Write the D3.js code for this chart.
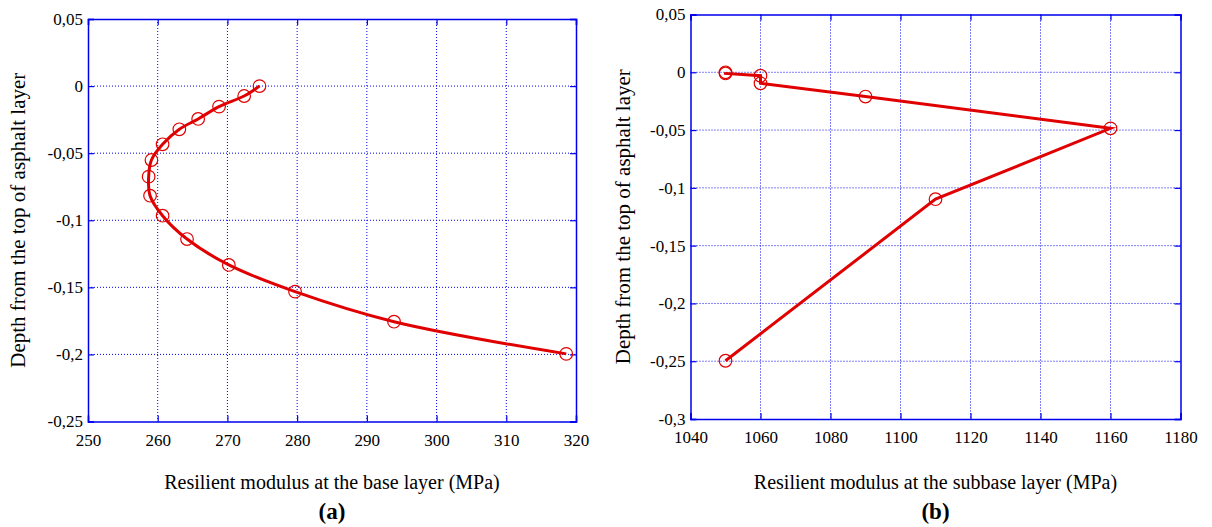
<!DOCTYPE html>
<html>
<head>
<meta charset="utf-8">
<script src="https://cdn.jsdelivr.net/npm/d3@7"></script>
<style>
  body { margin: 0; background: #fff; }
  svg { display: block; }
  svg text { font-family: 'Liberation Serif', 'DejaVu Serif', Times, serif !important; fill: #000; }
</style>
</head>
<body>
<svg id="chart" width="1212" height="527"></svg>
<script>
// panel (a): base layer
const baseModulus = [274.6, 272.4, 268.8, 265.8, 263.1, 260.7, 259.1, 258.7, 258.9, 260.7, 264.2, 270.2, 279.7, 293.9, 318.6];
const baseDepth = [0, -0.0074, -0.0153, -0.0245, -0.0322, -0.0434, -0.0551, -0.0675, -0.0817, -0.0966, -0.114, -0.1333, -0.1532, -0.1756, -0.1996];
const baseXTicks = [250, 260, 270, 280, 290, 300, 310, 320];
const baseYTicks = [0.05, 0, -0.05, -0.1, -0.15, -0.2, -0.25];

// panel (b): subbase layer
const subModulus = [1050, 1050, 1060, 1060, 1090, 1160, 1110, 1050];
const subDepth = [0, -0.001, -0.003, -0.0095, -0.021, -0.0485, -0.1098, -0.2496];
const subXTicks = [1040, 1060, 1080, 1100, 1120, 1140, 1160, 1180];
const subYTicks = [0.05, 0, -0.05, -0.1, -0.15, -0.2, -0.25, -0.3];

const svg = d3.select("#chart");
const blue = "#0000ee";
const red = "#e00000";
const serif = "'Liberation Serif', 'DejaVu Serif', Times, serif";

function fmt(v) {
    return String(+v.toFixed(2)).replace(".", ","); // comma decimals like the original
}

function drawPanel(p) {
    const g = svg.append("g");
    const x = d3.scaleLinear().domain([p.xTicks[0], p.xTicks[p.xTicks.length - 1]]).range([p.left, p.right]);
    const y = d3.scaleLinear().domain([p.yTicks[p.yTicks.length - 1], p.yTicks[0]]).range([p.bottom, p.top]);

    // dotted grid
    g.selectAll(".vgrid").data(p.xTicks.slice(1, -1)).enter().append("line")
        .attr("x1", d => x(d)).attr("x2", d => x(d))
        .attr("y1", p.top).attr("y2", p.bottom)
        .attr("stroke", blue).attr("stroke-width", 1).attr("stroke-dasharray", "1,2");
    g.selectAll(".hgrid").data(p.yTicks.slice(1, -1)).enter().append("line")
        .attr("y1", d => y(d)).attr("y2", d => y(d))
        .attr("x1", p.left).attr("x2", p.right)
        .attr("stroke", blue).attr("stroke-width", 1).attr("stroke-dasharray", "1,2");

    // axes with inward ticks on all four sides
    const tl = 6;
    const axes = [
        g.append("g").attr("transform", `translate(0,${p.bottom})`)
            .call(d3.axisBottom(x).tickValues(p.xTicks).tickSize(-tl).tickPadding(12).tickFormat(d => d)),
        g.append("g").attr("transform", `translate(0,${p.top})`)
            .call(d3.axisTop(x).tickValues(p.xTicks).tickSize(-tl).tickFormat("")),
        g.append("g").attr("transform", `translate(${p.left},0)`)
            .call(d3.axisLeft(y).tickValues(p.yTicks).tickSize(-tl).tickPadding(5).tickFormat(fmt)),
        g.append("g").attr("transform", `translate(${p.right},0)`)
            .call(d3.axisRight(y).tickValues(p.yTicks).tickSize(-tl).tickFormat(""))
    ];
    axes.forEach(a => a.attr("font-family", serif).attr("font-size", 17));
    g.selectAll(".domain").attr("stroke", blue).attr("stroke-width", 1.5);
    g.selectAll(".tick line").attr("stroke", blue).attr("stroke-width", 1.2);
    g.selectAll(".tick text").attr("fill", "#000");

    // data
    const pts = p.xs.map((v, i) => [v, p.ys[i]]);
    const line = d3.line().x(d => x(d[0])).y(d => y(d[1])).curve(p.curve);
    g.append("path").datum(pts)
        .attr("d", line).attr("fill", "none").attr("stroke", red).attr("stroke-width", 3);
    g.selectAll("circle").data(pts).enter().append("circle")
        .attr("cx", d => x(d[0])).attr("cy", d => y(d[1])).attr("r", 6.3)
        .attr("fill", "none").attr("stroke", red).attr("stroke-width", 1.2);

    // titles
    const cx = (p.left + p.right) / 2;
    g.append("text").attr("x", cx).attr("y", 489).attr("text-anchor", "middle")
        .attr("font-family", serif).attr("font-size", 20).text(p.xTitle);
    g.append("text").attr("x", cx).attr("y", 519).attr("text-anchor", "middle")
        .attr("font-family", serif).attr("font-size", 23).attr("font-weight", "bold").text(p.label);
    g.append("text").attr("transform", `translate(${p.yTitleX},${(p.top + p.bottom) / 2}) rotate(-90)`)
        .attr("font-family", serif).attr("text-anchor", "middle").attr("font-size", 21).text(p.yTitle);
}

drawPanel({
    xs: baseModulus, ys: baseDepth, xTicks: baseXTicks, yTicks: baseYTicks,
    left: 88, right: 576, top: 19, bottom: 421.5, curve: d3.curveCatmullRom.alpha(0.5),
    xTitle: "Resilient modulus at the base layer (MPa)", label: "(a)",
    yTitle: "Depth from the top of asphalt layer", yTitleX: 25
});

drawPanel({
    xs: subModulus, ys: subDepth, xTicks: subXTicks, yTicks: subYTicks,
    left: 690.5, right: 1180.5, top: 14.5, bottom: 419, curve: d3.curveLinear,
    xTitle: "Resilient modulus at the subbase layer (MPa)", label: "(b)",
    yTitle: "Depth from the top of asphalt layer", yTitleX: 630
});
</script>
</body>
</html>
